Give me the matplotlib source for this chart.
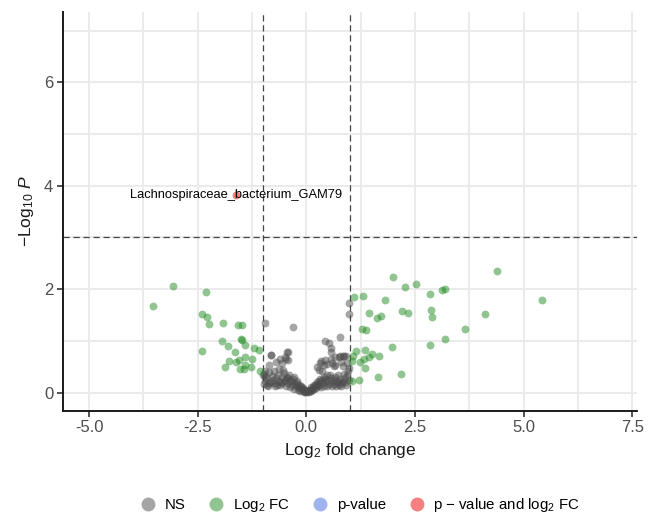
import matplotlib
matplotlib.use("Agg")
import matplotlib.pyplot as plt
from matplotlib.lines import Line2D
import numpy as np

plt.rcParams['font.family'] = ['Liberation Sans', 'DejaVu Sans']
plt.rcParams['mathtext.fontset'] = 'custom'
plt.rcParams['mathtext.rm'] = 'Liberation Sans'
plt.rcParams['mathtext.it'] = 'Liberation Sans:italic'

# not significant (grey)
ns_x = [-0.96, -0.31, 0.99, 0.97, 0.43, 0.77, 0.52, 0.57, 0.57, -0.81, -0.44, -0.60, -0.47,
        -0.42, -0.57, -0.70, 0.33, 0.43, 0.56, 0.66, 0.77, 0.85, 0.80, 0.85, 0.48, 0.64, 0.25,
        0.30, 0.37, -0.94, -0.85, -0.75, -0.64, -0.54, -0.99, -0.94, -0.29, -0.37, -0.44, -0.48,
        -0.60, -0.67, -0.75, -0.87, -0.91, -0.21, -0.13, -0.07, -0.02, 0.06, 0.11, 0.17, 0.25,
        0.31, 0.40, 0.48, 0.56, 0.67, 0.75, 0.83, 0.91, 0.98, 0.94, 0.87, -0.82, -0.48, -0.43,
        -0.86, -0.97, -0.97, 0.31, 0.40, 0.58, 0.66, 0.91, 0.94, 0.87, 0.76,
        -0.95, -0.90, -0.88, -0.82, -0.80, -0.76, -0.72, -0.70, -0.66, -0.63, -0.60, -0.57,
        -0.55, -0.52, -0.50, -0.47, -0.45, -0.42, -0.40, -0.38, -0.35, -0.33, -0.30, -0.28,
        -0.26, -0.24, -0.22, -0.20, -0.18, -0.16, -0.14, -0.12, -0.10, -0.08, -0.06, -0.05,
        -0.03, -0.01, 0.02, 0.04, 0.06, 0.08, 0.10, 0.12, 0.14, 0.16, 0.18, 0.20, 0.22, 0.24,
        0.26, 0.28, 0.30, 0.33, 0.35, 0.37, 0.40, 0.42, 0.45, 0.48, 0.50, 0.53, 0.55, 0.58,
        0.60, 0.63, 0.65, 0.68, 0.70, 0.73, 0.76, 0.78, 0.80, 0.84, 0.88, 0.92, 0.95, 0.97]
ns_y = [1.35, 1.27, 1.52, 1.74, 1.00, 1.07, 0.96, 0.86, 0.79, 0.73, 0.78, 0.66, 0.66,
        0.63, 0.57, 0.60, 0.61, 0.63, 0.65, 0.68, 0.70, 0.70, 0.59, 0.52, 0.55, 0.52, 0.50,
        0.44, 0.41, 0.41, 0.39, 0.41, 0.46, 0.44, 0.34, 0.31, 0.31, 0.25, 0.31, 0.25,
        0.21, 0.15, 0.18, 0.18, 0.15, 0.18, 0.12, 0.09, 0.03, 0.05, 0.10, 0.15, 0.21,
        0.27, 0.31, 0.34, 0.28, 0.25, 0.21, 0.18, 0.15, 0.25, 0.34, 0.37, 0.72, 0.69, 0.78,
        0.53, 0.36, 0.16, 0.57, 0.53, 0.57, 0.53, 0.70, 0.57, 0.70, 0.69,
        0.22, 0.28, 0.12, 0.20, 0.32, 0.25, 0.12, 0.28, 0.35, 0.22, 0.15, 0.30,
        0.18, 0.38, 0.22, 0.13, 0.28, 0.18, 0.35, 0.10, 0.22, 0.15, 0.26, 0.08,
        0.17, 0.12, 0.22, 0.06, 0.14, 0.09, 0.04, 0.10, 0.05, 0.07, 0.02, 0.05,
        0.01, 0.03, 0.01, 0.04, 0.02, 0.06, 0.03, 0.08, 0.05, 0.11, 0.07, 0.14, 0.09, 0.17,
        0.12, 0.22, 0.15, 0.10, 0.24, 0.18, 0.13, 0.27, 0.20, 0.12, 0.24, 0.17, 0.35, 0.13,
        0.22, 0.16, 0.30, 0.13, 0.20, 0.35, 0.15, 0.26, 0.13, 0.22, 0.28, 0.20, 0.42, 0.47]

# |log2FC| > 1 (green)
fc_x = [-3.06, -3.52, -2.31, -2.39, -2.29, -2.23, -1.91, -1.58, -1.49, -1.51, -1.49, -1.40,
        -1.94, -1.81, -2.39, -1.64, -1.20, -1.10, -1.42, -1.25, -1.56, -1.78, -1.61, -1.40,
        -1.87, -1.52, -1.44, -1.27, -1.06,
        4.38, 5.43, 1.99, 2.27, 2.52, 2.85, 3.12, 3.18, 1.09, 1.31, 1.81, 1.44, 1.62, 1.72,
        2.20, 2.34, 2.87, 2.88, 4.12, 3.65, 3.19, 2.84, 1.98, 1.27, 1.38, 1.15, 1.35, 1.51,
        1.67, 1.44, 1.33, 1.07, 1.04, 1.24, 1.34, 1.64, 2.17, 1.04, 1.20]
fc_y = [2.06, 1.67, 1.94, 1.53, 1.47, 1.33, 1.34, 1.31, 1.30, 1.03, 1.02, 0.93,
        0.99, 0.90, 0.81, 0.79, 0.87, 0.83, 0.69, 0.65, 0.64, 0.62, 0.60, 0.54,
        0.49, 0.46, 0.46, 0.49, 0.41,
        2.35, 1.79, 2.24, 2.04, 2.11, 1.90, 1.98, 2.01, 1.84, 1.86, 1.79, 1.54, 1.44, 1.48,
        1.58, 1.54, 1.60, 1.46, 1.53, 1.24, 1.04, 0.92, 0.88, 1.24, 1.21, 0.80, 0.83, 0.74,
        0.70, 0.68, 0.65, 0.70, 0.62, 0.60, 0.48, 0.30, 0.37, 0.23, 0.24]

# p-value and log2FC (red)
both_x = [-1.62]
both_y = [3.83]
both_lab = ["Lachnospiraceae_bacterium_GAM79"]

fc_cut = 1.0
p_cut = 3.0

c_ns, c_fc, c_p, c_both = '#4d4d4d', '#228B22', '#4169E1', '#EE0000'

fig = plt.figure(figsize=(6.49, 5.18), dpi=100)
ax = fig.add_axes([0.097, 0.207, 0.884, 0.769])

ax.scatter(ns_x, ns_y, s=32, color=c_ns, alpha=0.5, linewidths=0, zorder=3)
ax.scatter(fc_x, fc_y, s=32, color=c_fc, alpha=0.5, linewidths=0, zorder=3)
ax.scatter(both_x, both_y, s=32, color=c_both, alpha=0.5, linewidths=0, zorder=3)
for x, y, t in zip(both_x, both_y, both_lab):
    ax.text(x, y, t, fontsize=9.3, ha='center', va='center', color='black', zorder=4)

ax.axvline(-fc_cut, color='#444444', ls=(0, (5, 3)), lw=0.9, zorder=2)
ax.axvline(fc_cut, color='#444444', ls=(0, (5, 3)), lw=0.9, zorder=2)
ax.axhline(p_cut, color='#444444', ls=(0, (5, 3)), lw=0.9, zorder=2)

ax.set_xlim(-5.6, 7.6)
ax.set_ylim(-0.35, 7.35)
ax.set_xticks([-5, -2.5, 0, 2.5, 5, 7.5])
ax.set_xticklabels(['-5.0', '-2.5', '0.0', '2.5', '5.0', '7.5'])
ax.set_yticks([0, 2, 4, 6])
ax.set_xticks([-3.75, -1.25, 1.25, 3.75, 6.25], minor=True)
ax.set_yticks([1, 3, 5, 7], minor=True)
ax.grid(True, which='both', color='#ebebeb', lw=1.4, zorder=0)
ax.set_axisbelow(True)

for s in ['top', 'right']:
    ax.spines[s].set_visible(False)
for s in ['left', 'bottom']:
    ax.spines[s].set_linewidth(1.4)
    ax.spines[s].set_color('#1a1a1a')
ax.tick_params(which='major', direction='out', length=4, width=1.2, color='#333333',
               labelsize=12, labelcolor='#4d4d4d', pad=3)
ax.tick_params(which='minor', length=0)

ax.set_xlabel('Log$_2$ fold change', fontsize=12.5, color='#1a1a1a', labelpad=4)
ax.set_ylabel('$-$Log$_{10}$ $\\it{P}$', fontsize=12.5, color='#1a1a1a', labelpad=6)

handles = [Line2D([], [], marker='o', ls='', ms=10, color=c, alpha=0.5, mew=0)
           for c in [c_ns, c_fc, c_p, c_both]]
labels = ['NS', 'Log$_2$ FC', 'p-value', 'p $-$ value and log$_2$ FC']
fig.legend(handles, labels, loc='lower center', bbox_to_anchor=(0.552, -0.018), ncol=4,
           frameon=False, fontsize=10.8, handletextpad=0.35, columnspacing=1.3,
           handlelength=1.5)

fig.savefig('out.png', dpi=100)
